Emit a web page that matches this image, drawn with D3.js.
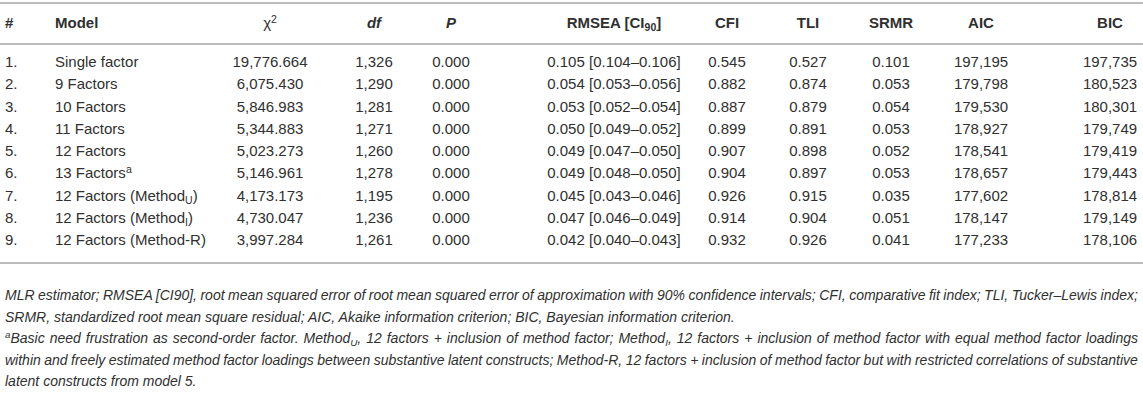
<!DOCTYPE html>
<html>
<head>
<meta charset="utf-8">
<script src="https://cdn.jsdelivr.net/npm/d3@7"></script>
<style>
  body { margin: 0; background: #fff; }
  svg text { font-family: "Liberation Sans", Arial, Helvetica, sans-serif; fill: #303030; }
</style>
</head>
<body>
<div id="chart"></div>
<script>
// table data
var rowNums = ["1.", "2.", "3.", "4.", "5.", "6.", "7.", "8.", "9."];
var models = ["Single factor", "9 Factors", "10 Factors", "11 Factors", "12 Factors", "13 Factors^{a}",
              "12 Factors (Method_{U})", "12 Factors (Method_{I})", "12 Factors (Method-R)"];
var chi2 = ["19,776.664", "6,075.430", "5,846.983", "5,344.883", "5,023.273", "5,146.961", "4,173.173", "4,730.047", "3,997.284"];
var dfs = ["1,326", "1,290", "1,281", "1,271", "1,260", "1,278", "1,195", "1,236", "1,261"];
var pvals = ["0.000", "0.000", "0.000", "0.000", "0.000", "0.000", "0.000", "0.000", "0.000"];
var rmsea = ["0.105 [0.104–0.106]", "0.054 [0.053–0.056]", "0.053 [0.052–0.054]", "0.050 [0.049–0.052]",
             "0.049 [0.047–0.050]", "0.049 [0.048–0.050]", "0.045 [0.043–0.046]", "0.047 [0.046–0.049]", "0.042 [0.040–0.043]"];
var cfi = ["0.545", "0.882", "0.887", "0.899", "0.907", "0.904", "0.926", "0.914", "0.932"];
var tli = ["0.527", "0.874", "0.879", "0.891", "0.898", "0.897", "0.915", "0.904", "0.926"];
var srmr = ["0.101", "0.053", "0.054", "0.053", "0.052", "0.053", "0.035", "0.051", "0.041"];
var aic = ["197,195", "179,798", "179,530", "178,927", "178,541", "178,657", "177,602", "178,147", "177,233"];
var bic = ["197,735", "180,523", "180,301", "179,749", "179,419", "179,443", "178,814", "179,149", "178,106"];

var headers = ["#", "Model", "χ^{2}", "df", "P", "RMSEA [CI_{90}]", "CFI", "TLI", "SRMR", "AIC", "BIC"];

var notes = [
  "MLR estimator; RMSEA [CI90], root mean squared error of root mean squared error of approximation with 90% confidence intervals; CFI, comparative fit index; TLI, Tucker–Lewis index;",
  "SRMR, standardized root mean square residual; AIC, Akaike information criterion; BIC, Bayesian information criterion.",
  "^{a}Basic need frustration as second-order factor. Method_{U}, 12 factors + inclusion of method factor; Method_{I}, 12 factors + inclusion of method factor with equal method factor loadings",
  "within and freely estimated method factor loadings between substantive latent constructs; Method-R, 12 factors + inclusion of method factor but with restricted correlations of substantive",
  "latent constructs from model 5."
];
var noteJustify = [true, false, true, true, false];

var W = 1143, H = 404;
var svg = d3.select("#chart").append("svg").attr("width", W).attr("height", H);

var columns = [rowNums, models, chi2, dfs, pvals, rmsea, cfi, tli, srmr, aic, bic];
// column anchor x, and alignment
var colX = [5, 55, 270, 374, 451, 614, 727, 808, 891, 981, 1110];
var colAnchor = ["start", "start", "middle", "middle", "middle", "middle", "middle", "middle", "middle", "middle", "middle"];

var y = d3.scalePoint().domain(d3.range(rowNums.length)).range([62, 240]);

// write text with ^{..} superscript and _{..} subscript
function rich(sel, str) {
  var parts = str.split(/(\^\{[^}]*\}|_\{[^}]*\})/).filter(function(d){ return d !== ""; });
  var shift = 0;
  parts.forEach(function(p) {
    var t = sel.append("tspan");
    var dy = 0;
    if (p[0] === "^") { dy = -5; p = p.slice(2, -1); t.style("font-size", "0.7em"); }
    else if (p[0] === "_" && p[1] === "{") { dy = 3; p = p.slice(2, -1); t.style("font-size", "0.7em"); }
    t.attr("dy", (dy - shift)).text(p);
    shift = dy;
  });
}

// rules
svg.append("rect").attr("x", 0).attr("y", 2).attr("width", W).attr("height", 2).attr("fill", "#bcbcbc");
svg.append("rect").attr("x", 0).attr("y", 43).attr("width", W).attr("height", 2).attr("fill", "#bcbcbc");
svg.append("rect").attr("x", 0).attr("y", 262).attr("width", W).attr("height", 2).attr("fill", "#bcbcbc");

// header
headers.forEach(function(h, i) {
  var t = svg.append("text")
    .attr("x", colX[i]).attr("y", 28)
    .attr("text-anchor", colAnchor[i])
    .style("font-size", "15px")
    .style("font-weight", "bold");
  if (h === "df" || h === "P") t.style("font-style", "italic");
  if (h === "χ^{2}") t.style("font-weight", "normal");
  rich(t, h);
});

// body
columns.forEach(function(col, i) {
  col.forEach(function(v, r) {
    var t = svg.append("text")
      .attr("x", colX[i]).attr("y", y(r) + 5)
      .attr("text-anchor", colAnchor[i])
      .style("font-size", "15px");
    rich(t, v);
  });
});

// footnotes
var ny = d3.scalePoint().domain(d3.range(notes.length)).range([295, 381]);
notes.forEach(function(n, i) {
  var t = svg.append("text")
    .attr("x", 5).attr("y", ny(i) + 5)
    .style("font-size", "14px")
    .style("font-style", "italic");
  rich(t, n);
  if (noteJustify[i]) {
    var w = t.node().getBBox().width;
    var gaps = n.split(" ").length - 1;
    t.style("word-spacing", ((1138 - 5 - w) / gaps) + "px");
  }
});
</script>
</body>
</html>
